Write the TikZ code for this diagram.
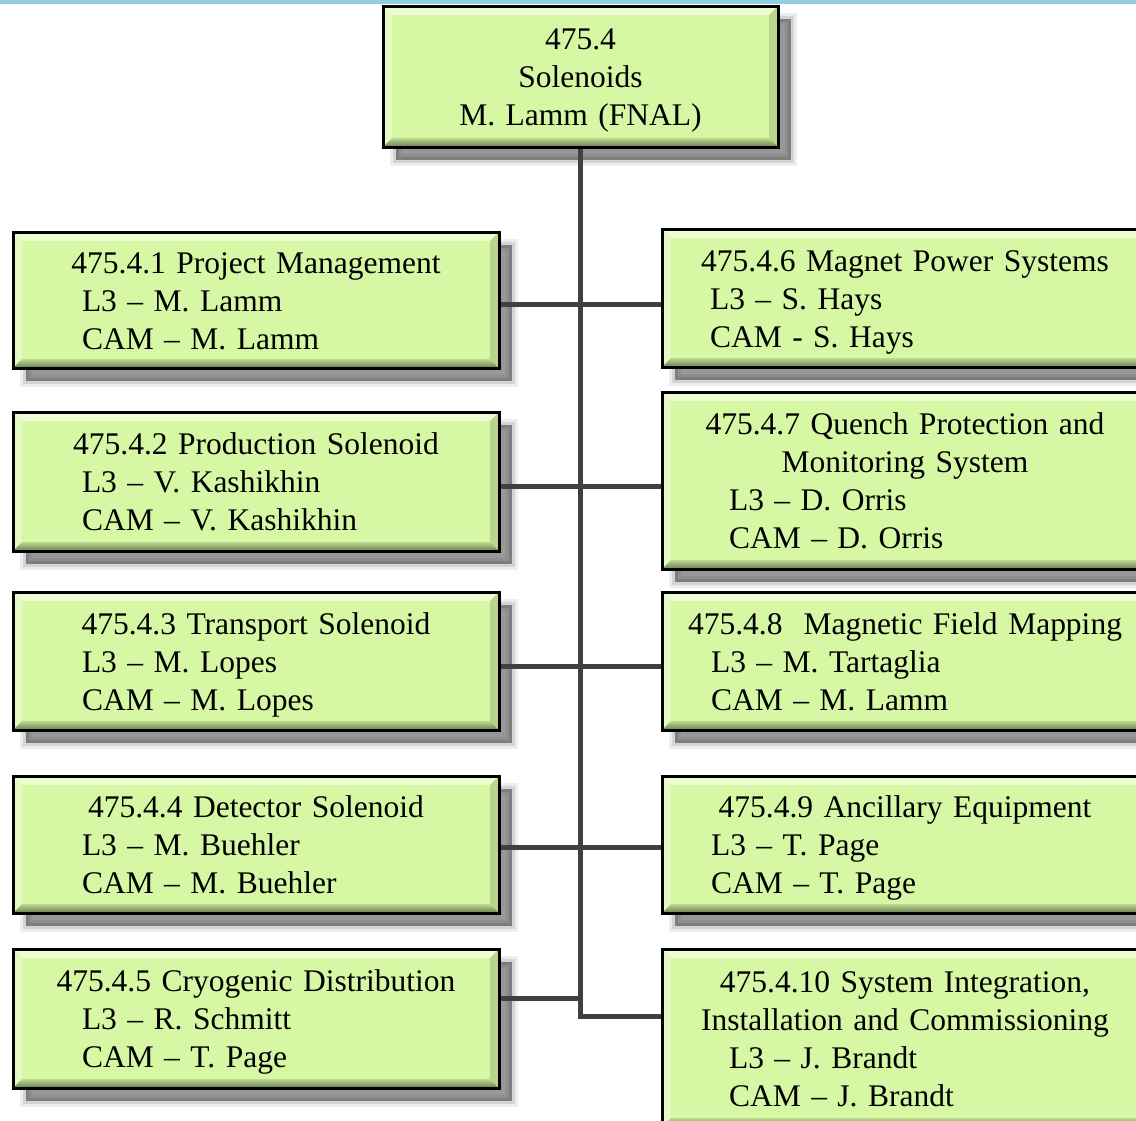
\documentclass[tikz,border=0pt]{standalone}
\usepackage{fontspec}
\setmainfont{Liberation Serif}
\usetikzlibrary{shadows}

\definecolor{boxgreen}{RGB}{214,247,164}
\definecolor{bevelhi}{RGB}{238,252,212}
\definecolor{bevelside}{RGB}{228,250,194}
\definecolor{linkgray}{RGB}{64,64,64}
\definecolor{topblue}{RGB}{146,205,224}

\newcommand{\wbsstrut}{\rule[-0.21\baselineskip]{0pt}{\baselineskip}}
\newcommand{\wbstitle}[1]{\makebox[\linewidth]{\wbsstrut#1}}
\newcommand{\wbsrole}[2]{\makebox[\linewidth][l]{\wbsstrut\hspace*{#1}#2}}
\def\ppb{path picture bounding box}

\begin{document}
\begin{tikzpicture}[x=1pt,y=-1pt,
  wbsbox/.style={draw=black,line width=3pt,fill=boxgreen,inner sep=0pt,
    text width=486pt,minimum width=486pt,align=center,
    font=\fontsize{31.5}{38}\selectfont,
    general shadow={shadow xshift=13pt,shadow yshift=-13pt,fill=black,draw=black,line width=12pt,opacity=0.07},
    general shadow={shadow xshift=13pt,shadow yshift=-13pt,fill=black,draw=black,line width=6pt,opacity=0.1},
    general shadow={shadow xshift=13pt,shadow yshift=-13pt,fill=black,draw=none,opacity=0.28},
    path picture={
      \fill[bevelhi] (\ppb.north west) -- (\ppb.north east) -- ([shift={(-9pt,-9pt)}]\ppb.north east) -- ([shift={(9pt,-9pt)}]\ppb.north west) -- cycle;
      \fill[bevelside] (\ppb.north west) -- (\ppb.south west) -- ([shift={(9pt,9pt)}]\ppb.south west) -- ([shift={(9pt,-9pt)}]\ppb.north west) -- cycle;
      \fill[boxgreen!86!black] (\ppb.north east) -- (\ppb.south east) -- ([shift={(-9pt,9pt)}]\ppb.south east) -- ([shift={(-9pt,-9pt)}]\ppb.north east) -- cycle;
      \shade[top color=boxgreen!88!black,bottom color=boxgreen!50!black] (\ppb.south west) -- (\ppb.south east) -- ([shift={(-9pt,9pt)}]\ppb.south east) -- ([shift={(9pt,9pt)}]\ppb.south west) -- cycle;
    }},
  link/.style={draw=linkgray,line width=5pt}]
\clip (0,0) rectangle (1136,1120);
\fill[white] (0,0) rectangle (1136,1120);
\fill[topblue] (0,0) rectangle (1136,3.5);

% top level
\node[wbsbox,text width=395pt,minimum width=395pt,minimum height=141pt] (top) at (580.5,76.5)
  {\wbstitle{475.4}\\ \wbstitle{Solenoids}\\ \wbstitle{M. Lamm (FNAL)}};

% left column
\node[wbsbox,minimum height=136pt] (l1) at (256,300)
  {\wbstitle{475.4.1 Project Management}\\ \wbsrole{69pt}{L3 – M. Lamm}\\ \wbsrole{69pt}{CAM – M. Lamm}};
\node[wbsbox,minimum height=139pt] (l2) at (256,481.5)
  {\wbstitle{475.4.2 Production Solenoid}\\ \wbsrole{69pt}{L3 – V. Kashikhin}\\ \wbsrole{69pt}{CAM – V. Kashikhin}};
\node[wbsbox,minimum height=138pt] (l3) at (256,661)
  {\wbstitle{475.4.3 Transport Solenoid}\\ \wbsrole{69pt}{L3 – M. Lopes}\\ \wbsrole{69pt}{CAM – M. Lopes}};
\node[wbsbox,minimum height=137pt] (l4) at (256,844.5)
  {\wbstitle{475.4.4 Detector Solenoid}\\ \wbsrole{69pt}{L3 – M. Buehler}\\ \wbsrole{69pt}{CAM – M. Buehler}};
\node[wbsbox,minimum height=139pt] (l5) at (256,1018.5)
  {\wbstitle{475.4.5 Cryogenic Distribution}\\ \wbsrole{69pt}{L3 – R. Schmitt}\\ \wbsrole{69pt}{CAM – T. Page}};

% right column
\node[wbsbox,minimum height=138pt] (r1) at (905,298)
  {\wbstitle{475.4.6 Magnet Power Systems}\\ \wbsrole{48pt}{L3 – S. Hays}\\ \wbsrole{48pt}{CAM - S. Hays}};
\node[wbsbox,minimum height=177pt] (r2) at (905,480.5)
  {\wbstitle{475.4.7 Quench Protection and}\\ \wbstitle{Monitoring System}\\ \wbsrole{67pt}{L3 – D. Orris}\\ \wbsrole{67pt}{CAM – D. Orris}};
\node[wbsbox,minimum height=138pt] (r3) at (905,661)
  {\wbstitle{475.4.8~ Magnetic Field Mapping}\\ \wbsrole{49pt}{L3 – M. Tartaglia}\\ \wbsrole{49pt}{CAM – M. Lamm}};
\node[wbsbox,minimum height=137pt] (r4) at (905,844.5)
  {\wbstitle{475.4.9 Ancillary Equipment}\\ \wbsrole{49pt}{L3 – T. Page}\\ \wbsrole{49pt}{CAM – T. Page}};
\node[wbsbox,minimum height=178pt] (r5) at (905,1038)
  {\wbstitle{475.4.10 System Integration,}\\ \wbstitle{Installation and Commissioning}\\ \wbsrole{67pt}{L3 – J. Brandt}\\ \wbsrole{67pt}{CAM – J. Brandt}};

% junctions on the spine
\coordinate (j1) at (579,304);
\coordinate (j2) at (579,486);
\coordinate (j3) at (579,666);
\coordinate (j4) at (579,847);
\coordinate (j5l) at (579,998);
\coordinate (j5r) at (579,1016);

\draw[link] (top.south) -- (top.south |- j5r) -- (r5.west |- j5r);
\foreach \n in {1,...,4}
  \draw[link] (l\n.east |- j\n) -- (r\n.west |- j\n);
\draw[link] (l5.east |- j5l) -- (top.south |- j5l);
\end{tikzpicture}
\end{document}
